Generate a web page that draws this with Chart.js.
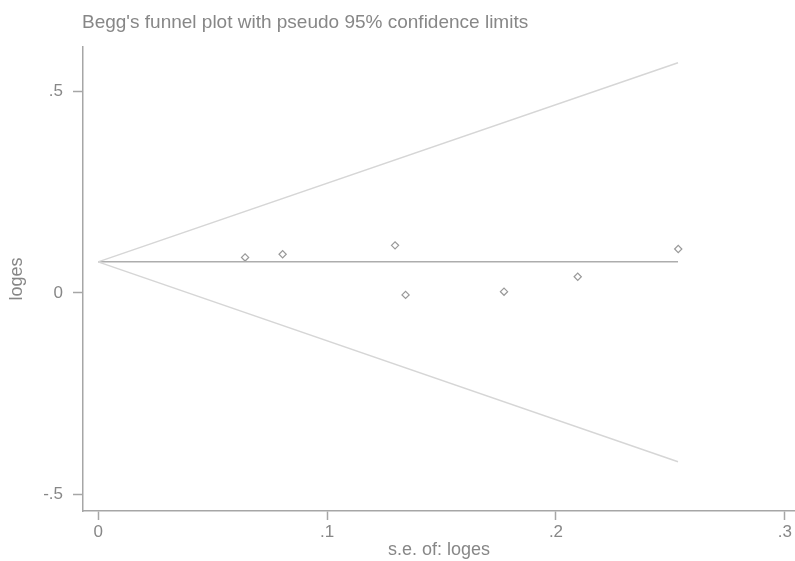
<!DOCTYPE html>
<html>
<head>
<meta charset="utf-8">
<script src="https://cdn.jsdelivr.net/npm/chart.js@4/dist/chart.umd.min.js"></script>
<style>
  body { margin: 0; background: #fff; }
  #wrap { width: 795px; height: 561px; }
</style>
</head>
<body>
<div id="wrap"><canvas id="funnelChart" width="795" height="561"></canvas></div>
<script>
// study points: standard error vs log effect size
var studySe = [0.0642, 0.0806, 0.1297, 0.1343, 0.1773, 0.2095, 0.2534];
var studyLogEs = [0.088, 0.096, 0.118, -0.005, 0.003, 0.040, 0.109];

// funnel: pooled estimate and pseudo 95% limits, endpoints
var funnelSe = [0, 0.2533];
var pooledLine = [0.077, 0.077];
var upperLimit = [0.077, 0.571];
var lowerLimit = [0.077, -0.419];

var xTicks = [0, 0.1, 0.2, 0.3];
var xTickLabels = ['0', '.1', '.2', '.3'];
var yTicks = [-0.5, 0, 0.5];
var yTickLabels = ['-.5', '0', '.5'];

var titleText = "Begg's funnel plot with pseudo 95% confidence limits";
var textFont = "'Liberation Sans', Arial, sans-serif";
var textColor = '#878787';
var axisColor = '#a6a6a6';

function toPoints(xs, ys) {
    var pts = [];
    for (var i = 0; i < xs.length; i++) {
        pts.push({ x: xs[i], y: ys[i] });
    }
    return pts;
}

// title drawn at the left edge of the plot region
var titlePlugin = {
    id: 'leftTitle',
    afterDraw: function (chart) {
        var ctx = chart.ctx;
        ctx.save();
        ctx.font = "19px " + textFont;
        ctx.fillStyle = textColor;
        ctx.textAlign = 'left';
        ctx.textBaseline = 'alphabetic';
        ctx.fillText(titleText, 82, 28);
        ctx.restore();
    }
};

var ctx = document.getElementById("funnelChart").getContext('2d');
var myChart = new Chart(ctx, {
    type: 'scatter',
    data: {
        datasets: [{
            label: 'upper limit',
            data: toPoints(funnelSe, upperLimit),
            showLine: true,
            borderColor: '#d6d6d6',
            borderWidth: 1.5,
            pointRadius: 0
        }, {
            label: 'lower limit',
            data: toPoints(funnelSe, lowerLimit),
            showLine: true,
            borderColor: '#d6d6d6',
            borderWidth: 1.5,
            pointRadius: 0
        }, {
            label: 'pooled',
            data: toPoints(funnelSe, pooledLine),
            showLine: true,
            borderColor: '#adadad',
            borderWidth: 1.5,
            pointRadius: 0
        }, {
            label: 'studies',
            data: toPoints(studySe, studyLogEs),
            pointStyle: 'rectRot',
            pointRadius: 3.6,
            pointBorderWidth: 1.2,
            pointBorderColor: '#999999',
            pointBackgroundColor: '#ffffff'
        }]
    },
    options: {
        responsive: false,
        animation: false,
        layout: { autoPadding: false, padding: { top: 47, left: 0, right: 0, bottom: 0 } },
        plugins: {
            legend: { display: false },
            tooltip: { enabled: false }
        },
        scales: {
            x: {
                type: 'linear',
                min: -0.0066,
                max: 0.3044,
                afterFit: function (scale) {
                    scale.height = 50;
                    scale.paddingLeft = 0;
                    scale.paddingRight = 0;
                },
                afterBuildTicks: function (scale) {
                    scale.ticks = xTicks.map(function (v) { return { value: v }; });
                },
                ticks: {
                    color: textColor,
                    font: { family: textFont, size: 17 },
                    padding: 2,
                    maxRotation: 0,
                    callback: function (value, index) { return xTickLabels[index]; }
                },
                grid: { drawOnChartArea: false, color: axisColor, tickLength: 9, tickWidth: 1.5 },
                border: { color: axisColor, width: 1.5 },
                title: {
                    display: true,
                    text: 's.e. of: loges',
                    color: textColor,
                    font: { family: textFont, size: 18 },
                    padding: 0
                }
            },
            y: {
                type: 'linear',
                min: -0.541,
                max: 0.610,
                afterFit: function (scale) { scale.width = 83; },
                afterBuildTicks: function (scale) {
                    scale.ticks = yTicks.map(function (v) { return { value: v }; });
                },
                ticks: {
                    color: textColor,
                    font: { family: textFont, size: 17 },
                    padding: 10,
                    callback: function (value, index) { return yTickLabels[index]; }
                },
                grid: { drawOnChartArea: false, color: axisColor, tickLength: 10, tickWidth: 1.5 },
                border: { color: axisColor, width: 1.5 },
                title: {
                    display: true,
                    text: 'loges',
                    color: textColor,
                    font: { family: textFont, size: 18 },
                    padding: 6
                }
            }
        }
    },
    plugins: [titlePlugin]
});
</script>
</body>
</html>
